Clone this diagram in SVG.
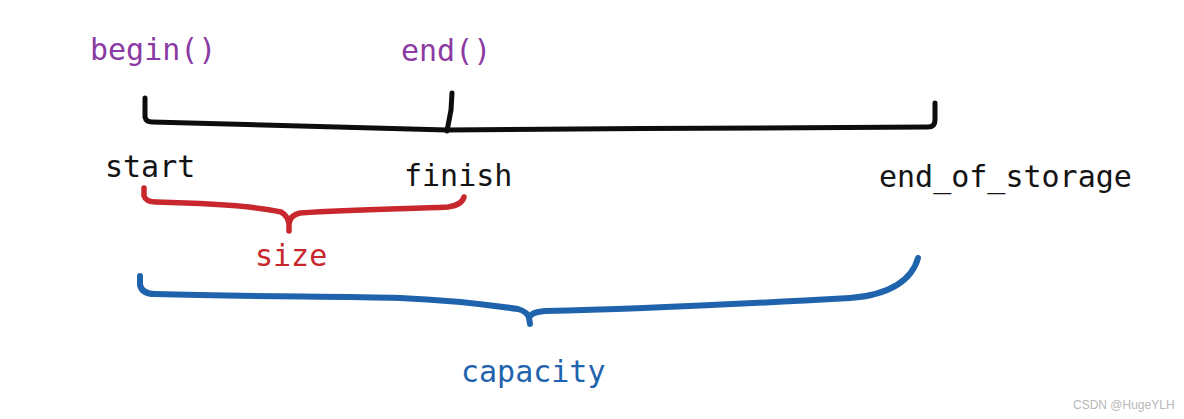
<svg xmlns="http://www.w3.org/2000/svg" width="1184" height="419" viewBox="0 0 1184 419">
<style>
.t{font-family:"DejaVu Sans Mono","Liberation Mono",monospace;font-size:30px}
.p{fill:#8b3aa3}.k{fill:#141414}.r{fill:#c8282d}.b{fill:#1f63ad}
.s{fill:none;stroke-linecap:round;stroke-linejoin:round}
.bk{stroke:#0d0d0d;stroke-width:5}
.rd{stroke:#c8282d;stroke-width:5.5}
.bl{stroke:#1f63ad;stroke-width:6}
</style>
<rect width="1184" height="419" fill="#fff"/>
<g id="connectors">
<path class="s bk" d="M145,98 L145,117 Q146,122 152,122 C260,124 360,128 447,130 C600,129 800,127 928,127 Q935,127 935,120 L935,103"/>
<path class="s bk" d="M452,93 L451,110 L447,131"/>
<path class="s rd" d="M144,188 L144,196 Q146,202 156,202 C200,203 250,205 281,212 Q288,216 289,224 L289,231 M289,224 Q290,215 300,213 C360,209 410,209 448,207 Q462,205 464,197"/>
<path class="s bl" d="M140,276 L140,285 Q142,294 155,294 C250,297 340,296 400,298 C450,300 490,305 518,309 Q528,312 529,318 L530,324 M529,318 Q531,312 545,311 C640,309 760,303 850,298 C890,295 912,280 918,258"/>
</g>
<g id="begin"><text class="t p" x="90" y="60">begin()</text></g>
<g id="end"><text class="t p" x="401" y="61">end()</text></g>
<g id="start"><text class="t k" x="105" y="177">start</text></g>
<g id="finish"><text class="t k" x="404" y="186">finish</text></g>
<g id="end_of_storage"><text class="t k" x="879" y="187">end_of_storage</text></g>
<g id="size"><text class="t r" x="255" y="266">size</text></g>
<g id="capacity"><text class="t b" x="461" y="382">capacity</text></g>
<g id="watermark"><text x="1073" y="409" font-family="Liberation Sans, sans-serif" font-size="12" fill="#b8b8b8">CSDN @HugeYLH</text></g>
</svg>
